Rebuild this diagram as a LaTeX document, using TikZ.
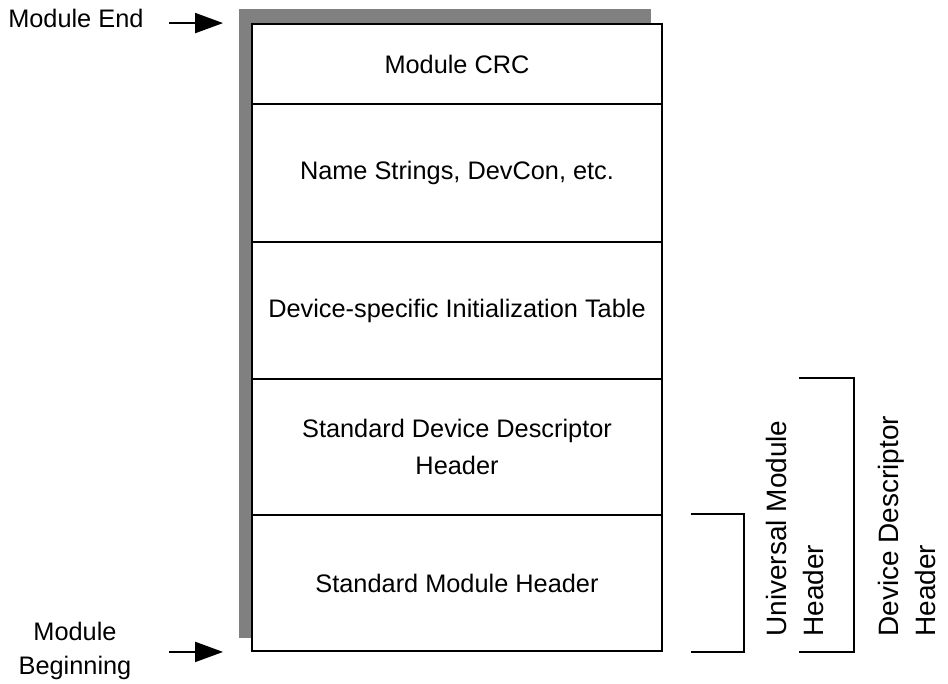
\documentclass[tikz,border=0pt]{standalone}
\usepackage{fontspec}
\setmainfont{Liberation Sans}
\usetikzlibrary{arrows.meta,positioning,backgrounds}
\definecolor{mlInk}{HTML}{000000}
\definecolor{mlShade}{HTML}{808080}
\tikzset{
  cell/.style     ={draw=mlInk,line width=1.4pt,fill=white,minimum width=307.5pt,
                    align=center,inner sep=0pt,font=\fontsize{19}{27.5}\selectfont},
  shadowbox/.style={fill=mlShade},
  flow/.style     ={-{Triangle[length=21pt,width=15pt]},mlInk,line width=1.5pt},
  brkt/.style     ={mlInk,line width=1.4pt},
  lbl/.style      ={font=\fontsize{19}{26}\selectfont,text=mlInk,inner sep=0pt},
  vlbl/.style     ={lbl,rotate=90,align=left,anchor=west,
                    font=\fontsize{21}{27.5}\selectfont},
}
\begin{document}
\begin{tikzpicture}[x=0.75pt,y=-0.75pt]
\useasboundingbox (0,0) rectangle (948,684);

%% module image, top to bottom
\node[cell,minimum height=60pt]     (crc)   at (457,64)    {Module CRC};
\node[cell,minimum height=103.5pt]  (names) at (457,173)   {Name Strings, DevCon, etc.};
\node[cell,minimum height=102.75pt] (init)  at (457,310.5) {Device-specific Initialization Table};
\node[cell,minimum height=102pt]    (sddh)  at (457,447)   {Standard Device Descriptor\\Header};
\node[cell,minimum height=102pt]    (smh)   at (457,583)   {Standard Module Header};

\begin{scope}[on background layer]
  \fill[shadowbox] ([shift={(-12,-14)}]crc.north west) rectangle ([shift={(-12,-14)}]smh.south east);
\end{scope}

%% end / beginning markers
\node[lbl,anchor=west] (endlbl) at (8,18) {Module End};
\node[lbl,align=center] (beglbl) at (75,651) {Module\\Beginning};
\coordinate (endtip)  at ([shift={(-28,0)}]crc.north west);
\coordinate (endtail) at ([shift={(-82,0)}]crc.north west);
\coordinate (begtip)  at ([shift={(-28,0)}]smh.south west);
\coordinate (begtail) at ([shift={(-82,0)}]smh.south west);
\draw[flow] (endtail) -- (endtip);
\draw[flow] (begtail) -- (begtip);

%% header brackets
\draw[brkt] ([shift={(28,0)}]smh.north east) -| ([shift={(81,0)}]smh.south east)
            -- ([shift={(28,0)}]smh.south east);
\draw[brkt] ([shift={(136,0)}]sddh.north east) -| ([shift={(191,0)}]smh.south east)
            -- ([shift={(136,0)}]smh.south east);
\node[vlbl] (umh) at (795,637) {Universal Module\\Header};
\node[vlbl] (ddh) at (907,637) {Device Descriptor\\Header};
\end{tikzpicture}
\end{document}
